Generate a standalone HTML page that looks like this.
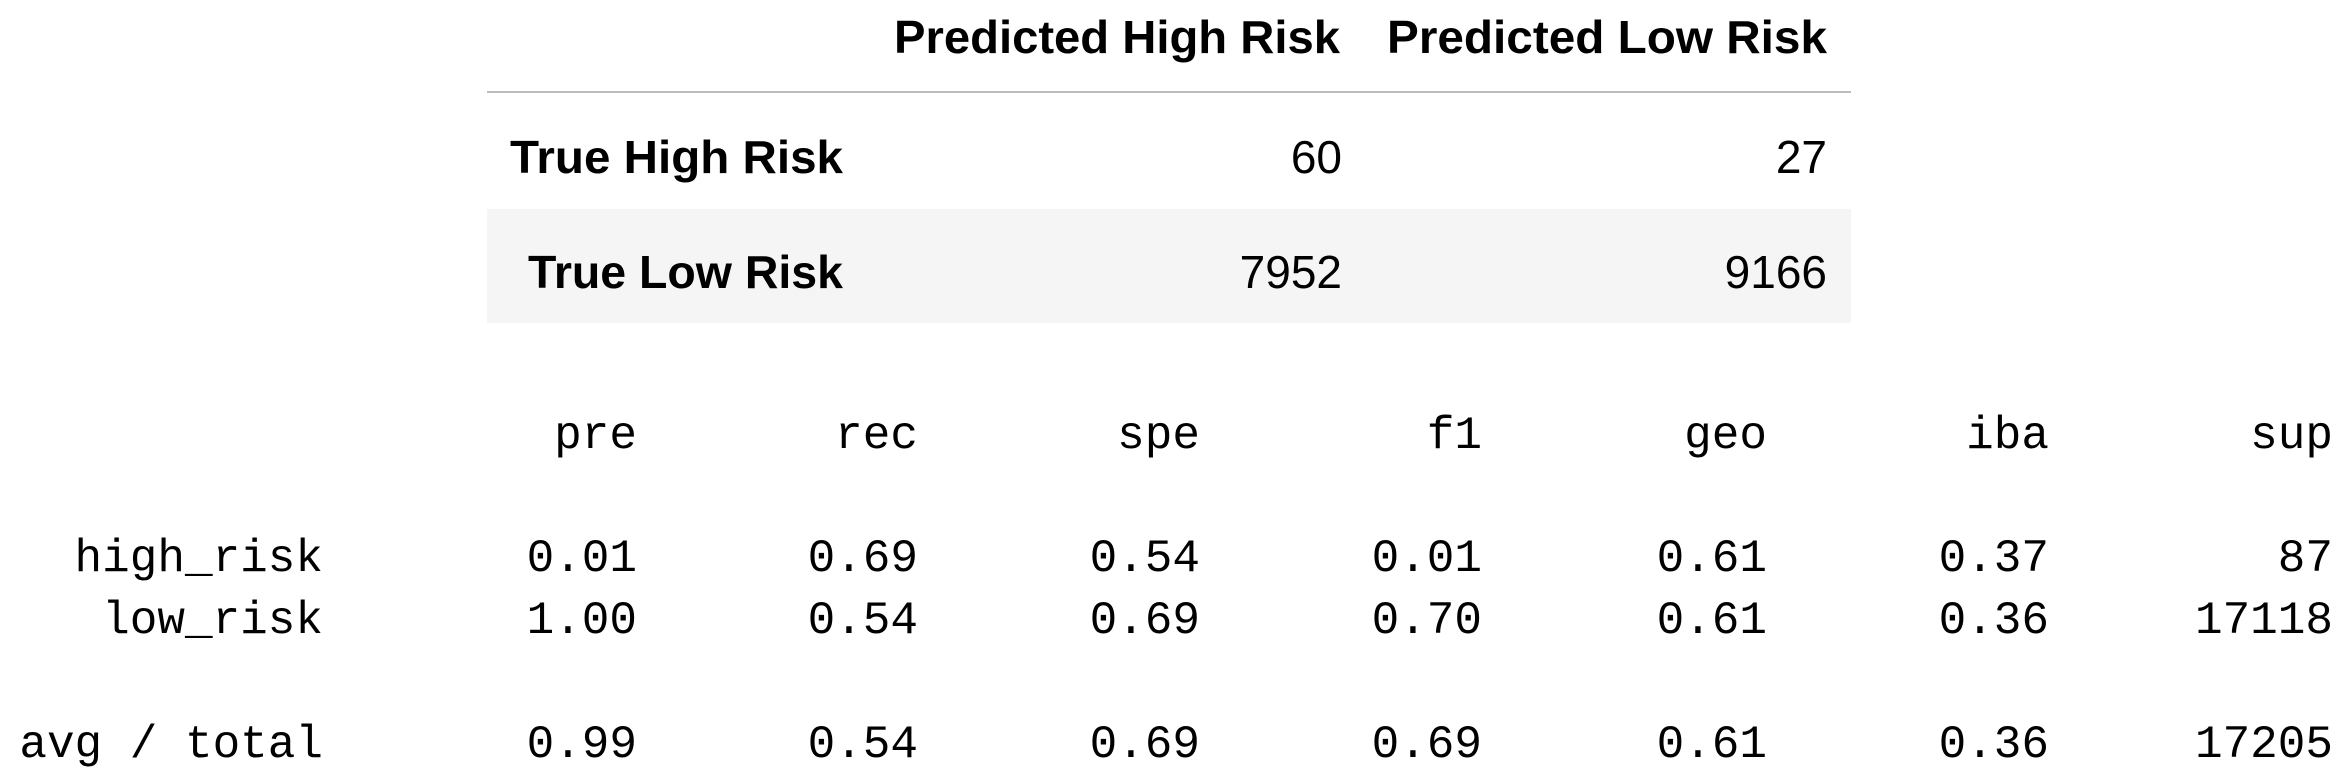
<!DOCTYPE html>
<html><head><meta charset="utf-8"><style>
html,body{margin:0;padding:0;background:#fff;width:2338px;height:775px;overflow:hidden}
svg{display:block}
.h{font-family:"Liberation Sans",sans-serif;font-weight:bold;font-size:46px;fill:#000}
.n{font-family:"Liberation Sans",sans-serif;font-size:46px;fill:#000}
.m{font-family:"Liberation Mono",monospace;font-size:46px;fill:#000}
</style></head><body>
<svg id="s" width="2338" height="775">
<g>
<rect x="487" y="209" width="1364" height="114" fill="#f5f5f5"/>
<rect x="487" y="91" width="1364" height="2" fill="#bdbdbd"/>
<text class="h" x="1340" y="53" text-anchor="end" textLength="446" lengthAdjust="spacingAndGlyphs">Predicted High Risk</text>
<text class="h" x="1827" y="53" text-anchor="end" textLength="440" lengthAdjust="spacingAndGlyphs">Predicted Low Risk</text>
<text class="h" x="843" y="173" text-anchor="end" textLength="333" lengthAdjust="spacingAndGlyphs">True High Risk</text>
<text class="h" x="843" y="288" text-anchor="end" textLength="315" lengthAdjust="spacingAndGlyphs">True Low Risk</text>
<text class="n" x="1342" y="173" text-anchor="end">60</text>
<text class="n" x="1827" y="173" text-anchor="end">27</text>
<text class="n" x="1342" y="288" text-anchor="end">7952</text>
<text class="n" x="1827" y="288" text-anchor="end">9166</text>
</g>
<g>
<text class="m" x="323" y="448" text-anchor="end"></text>
<text class="m" x="637" y="448" text-anchor="end">pre</text>
<text class="m" x="918" y="448" text-anchor="end">rec</text>
<text class="m" x="1200" y="448" text-anchor="end">spe</text>
<text class="m" x="1482" y="448" text-anchor="end">f1</text>
<text class="m" x="1767" y="448" text-anchor="end">geo</text>
<text class="m" x="2049" y="448" text-anchor="end">iba</text>
<text class="m" x="2333" y="448" text-anchor="end">sup</text>

<text class="m" x="323" y="571" text-anchor="end">high_risk</text>
<text class="m" x="637" y="571" text-anchor="end">0.01</text>
<text class="m" x="918" y="571" text-anchor="end">0.69</text>
<text class="m" x="1200" y="571" text-anchor="end">0.54</text>
<text class="m" x="1482" y="571" text-anchor="end">0.01</text>
<text class="m" x="1767" y="571" text-anchor="end">0.61</text>
<text class="m" x="2049" y="571" text-anchor="end">0.37</text>
<text class="m" x="2333" y="571" text-anchor="end">87</text>

<text class="m" x="323" y="633" text-anchor="end">low_risk</text>
<text class="m" x="637" y="633" text-anchor="end">1.00</text>
<text class="m" x="918" y="633" text-anchor="end">0.54</text>
<text class="m" x="1200" y="633" text-anchor="end">0.69</text>
<text class="m" x="1482" y="633" text-anchor="end">0.70</text>
<text class="m" x="1767" y="633" text-anchor="end">0.61</text>
<text class="m" x="2049" y="633" text-anchor="end">0.36</text>
<text class="m" x="2333" y="633" text-anchor="end">17118</text>

<text class="m" x="323" y="757" text-anchor="end">avg / total</text>
<text class="m" x="637" y="757" text-anchor="end">0.99</text>
<text class="m" x="918" y="757" text-anchor="end">0.54</text>
<text class="m" x="1200" y="757" text-anchor="end">0.69</text>
<text class="m" x="1482" y="757" text-anchor="end">0.69</text>
<text class="m" x="1767" y="757" text-anchor="end">0.61</text>
<text class="m" x="2049" y="757" text-anchor="end">0.36</text>
<text class="m" x="2333" y="757" text-anchor="end">17205</text>
</g>
</svg>
</body></html>
